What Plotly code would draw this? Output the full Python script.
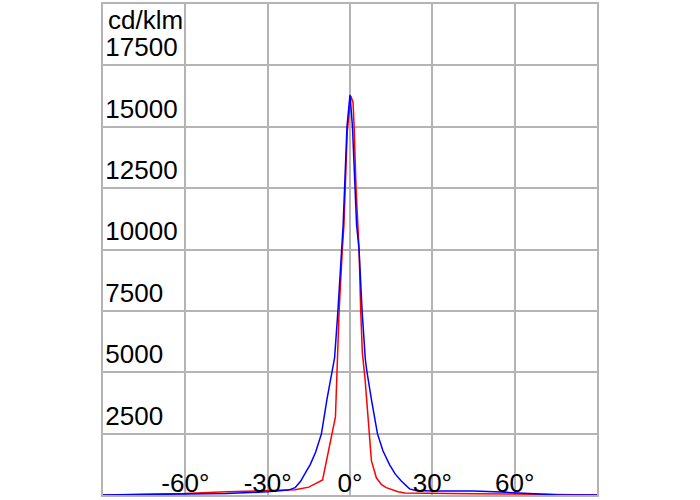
import plotly.graph_objects as go

# Angles (degrees) and luminous intensity (cd/klm)
blue_angles = [-90, -75, -60, -45, -30, -25, -22.5, -20, -18, -16, -14.5, -12.5, -10.4, -8.4, -6.5, -5.6,
               -4.4, -3.1, -2.5, -1.1, 0, 0.9, 2.4, 3.3, 4.4, 5.6, 6.2, 7.8, 10, 12, 14.4, 16.5, 18.7,
               21.7, 24, 30, 45, 55, 60, 65, 75, 90]
blue_values = [0, 10, 20, 60, 130, 160, 200, 300, 560, 950, 1240, 1750, 2500, 3900, 5000, 5600,
               7500, 10000, 11000, 15000, 16300, 15000, 11000, 10000, 7500, 5500, 5000, 3900, 2500, 1800, 1240, 850, 570,
               250, 180, 160, 160, 120, 100, 60, 10, 0]

red_angles = [-90, -75, -60, -45, -30, -20, -15, -10, -5.3, -4.6, -4, -2.8, -2.2, -1, 0.3, 1.1, 1.5,
              2.2, 2.9, 3.3, 3.9, 4.5, 5.5, 6.9, 7.8, 9.6, 11.5, 13.2, 17.5, 20, 30, 45, 60, 75, 90]
red_values = [0, 20, 60, 130, 170, 210, 320, 610, 3180, 5600, 7400, 10000, 11000, 14800, 16250, 16000, 15000,
              12500, 10950, 10000, 7500, 5800, 4700, 2500, 1400, 700, 420, 300, 130, 80, 60, 50, 40, 10, 0]

x_ticks = [-60, -30, 0, 30, 60]
x_tick_labels = ["-60°", "-30°", "0°", "30°", "60°"]
y_ticks = [2500, 5000, 7500, 10000, 12500, 15000, 17500]
y_tick_labels = ["2500", "5000", "7500", "10000", "12500", "15000", "17500"]
unit_label = "cd/klm"

FONT = "Liberation Sans, Arial, sans-serif"
GRID = "#b4b4b4"
FS = 26

fig = go.Figure()
fig.add_trace(go.Scatter(x=red_angles, y=red_values, mode="lines",
                         line=dict(color="#ff0000", width=1.5), showlegend=False))
fig.add_trace(go.Scatter(x=blue_angles, y=blue_values, mode="lines",
                         line=dict(color="#0000ff", width=1.5), showlegend=False))

fig.update_layout(
    width=700, height=500,
    margin=dict(l=103, r=103, t=3, b=2),
    paper_bgcolor="white", plot_bgcolor="white",
    font=dict(family=FONT, size=FS, color="black"),
    showlegend=False,
)
fig.update_xaxes(
    range=[-90, 90], tickvals=x_ticks, ticktext=x_tick_labels,
    ticklabelposition="inside", ticks="", showgrid=True, gridcolor=GRID, gridwidth=1.5,
    showline=True, linecolor=GRID, linewidth=1.5, mirror=True, zeroline=False,
    tickfont=dict(family=FONT, size=FS, color="black"), ticklabelstandoff=0,
)
fig.update_yaxes(
    range=[0, 20000], tickvals=y_ticks, ticktext=y_tick_labels,
    ticklabelposition="inside top", ticks="", showgrid=True, gridcolor=GRID, gridwidth=1.5,
    showline=True, linecolor=GRID, linewidth=1.5, mirror=True, zeroline=False,
    tickfont=dict(family=FONT, size=FS, color="black"), ticklabelstandoff=4,
)
fig.add_annotation(text=unit_label, xref="paper", yref="paper", x=0, y=1,
                   xanchor="left", yanchor="top", xshift=3, yshift=1, showarrow=False,
                   font=dict(family=FONT, size=FS, color="black"))

fig.write_html("out.html", config={"displayModeBar": False},
               post_script="document.body.style.margin='0';")
